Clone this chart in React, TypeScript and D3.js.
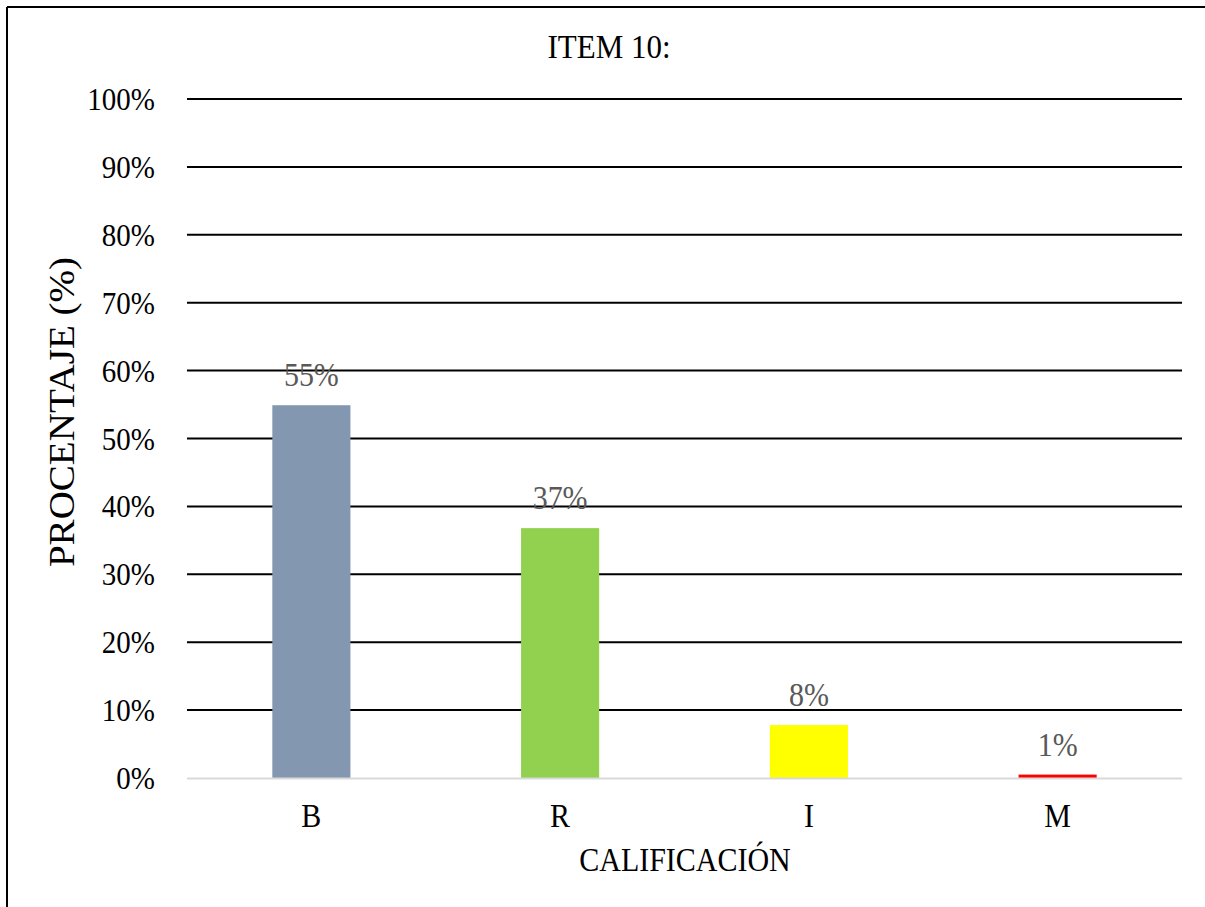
import React from "react";
import * as d3 from "d3";

const categories = ["B", "R", "I", "M"];
const values = [54.9, 36.8, 7.8, 0.5];
const colors = ["#8497b0", "#92d050", "#ffff00", "#ff0000"];
const yTicks = [0, 10, 20, 30, 40, 50, 60, 70, 80, 90, 100];
const title = "ITEM 10:";
const xTitle = "CALIFICACIÓN";
const yTitle = "PROCENTAJE (%)";

const W = 1205;
const H = 907;
const M = { left: 187, right: 1182, top: 99, bottom: 778 };
const font = "'Liberation Serif', 'Times New Roman', serif";
const SY = 1.1;

function T(props: {
  x: number;
  y: number;
  size: number;
  anchor: string;
  fill?: string;
  children: React.ReactNode;
}) {
  return (
    <text
      transform={`translate(${props.x},${props.y}) scale(1,${SY})`}
      textAnchor={props.anchor}
      fontFamily={font}
      fontSize={props.size}
      fill={props.fill || "#000"}
    >
      {props.children}
    </text>
  );
}

export default function App() {
  const x = d3
    .scaleBand<string>()
    .domain(categories)
    .range([M.left, M.right])
    .paddingInner(0.686)
    .paddingOuter(0.343);
  const y = d3.scaleLinear().domain([0, 100]).range([M.bottom, M.top]);

  return (
    <svg
      width={W}
      height={H}
      style={{ position: "absolute", left: 0, top: 0, background: "#fff" }}
    >
      <rect x={0} y={0} width={W} height={H} fill="#fff" />
      <line x1={7} y1={7} x2={W} y2={7} stroke="#000" strokeWidth={2} />
      <line x1={7} y1={7} x2={7} y2={H} stroke="#000" strokeWidth={2} />
      <T x={609} y={58} size={31} anchor="middle">
        {title}
      </T>
      {yTicks.map((t) => (
        <g key={t}>
          {t > 0 && (
            <line x1={M.left} x2={M.right} y1={y(t)} y2={y(t)} stroke="#000" strokeWidth={2} />
          )}
          <T x={155} y={y(t) + 11} size={29} anchor="end">
            {t}%
          </T>
        </g>
      ))}
      {categories.map((c, i) => (
        <g key={c}>
          <rect
            x={x(c)}
            y={y(values[i])}
            width={x.bandwidth()}
            height={y(0) - y(values[i])}
            fill={colors[i]}
          />
          <T
            x={(x(c) as number) + x.bandwidth() / 2}
            y={y(values[i]) - 19}
            size={30}
            anchor="middle"
            fill="#595959"
          >
            {Math.round(values[i])}%
          </T>
          <T x={(x(c) as number) + x.bandwidth() / 2} y={827} size={30} anchor="middle">
            {c}
          </T>
        </g>
      ))}
      <line x1={M.left} x2={M.right} y1={y(0) + 0.5} y2={y(0) + 0.5} stroke="#d9d9d9" strokeWidth={2} />
      <T x={685} y={871} size={30} anchor="middle">
        {xTitle}
      </T>
      <text
        transform={`translate(74, 412) rotate(-90) scale(${SY},1)`}
        textAnchor="middle"
        fontFamily={font}
        fontSize={35.5}
        fill="#000"
      >
        {yTitle}
      </text>
    </svg>
  );
}
